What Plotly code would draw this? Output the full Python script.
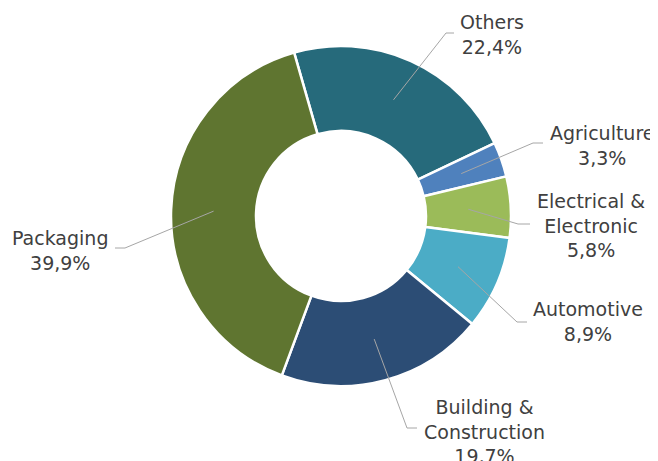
import math
import plotly.graph_objects as go

# data (clockwise from the top)
labels = ["Others", "Agriculture", "Electrical &<br>Electronic", "Automotive",
          "Building &<br>Construction", "Packaging"]
values = [22.4, 3.3, 5.8, 8.9, 19.7, 39.9]
colors = ["#266a7b", "#4f81bd", "#9bbb59", "#4bacc6", "#2c4d75", "#5f7530"]

# label layout (screen pixels): label centre and leader-line elbow
label_pos = [(492, 34), (602, 145), (591, 225), (588, 321), (484, 431), (60, 250)]
elbow_pos = [(446, 33), (533, 143), (518, 224), (517, 322), (407, 428), (125, 248)]
tail = [8, 10, 12, 10, 10, -10]

W, H = 658, 461
OFF = 8  # page body margin
cx, cy, R = 341 - OFF, 216 - OFF, 170
dom_x = [(cx - R) / W, (cx + R) / W]
dom_y = [1 - (cy + R) / H, 1 - (cy - R) / H]
rotation = -16

fig = go.Figure()
fig.add_trace(go.Pie(
    labels=labels, values=values, sort=False, direction="clockwise",
    rotation=rotation, hole=0.5, textinfo="none", hoverinfo="label+percent",
    marker=dict(colors=colors, line=dict(color="white", width=2.5)),
    domain=dict(x=dom_x, y=dom_y), showlegend=False,
))

total = sum(values)
start = rotation
for i, v in enumerate(values):
    mid = math.radians(start + v / total * 360 / 2)
    start += v / total * 360
    r = R * 0.75
    x0 = cx + r * math.sin(mid)
    y0 = cy - r * math.cos(mid)
    ex, ey = elbow_pos[i][0] - OFF, elbow_pos[i][1] - OFF
    fig.add_shape(type="path", xref="x", yref="y", layer="above",
                  path=f"M {x0},{y0} L {ex},{ey} L {ex + tail[i]},{ey}",
                  line=dict(color="#a6a6a6", width=1))
    pct = f"{v:.1f}".replace(".", ",") + "%"
    lx, ly = label_pos[i][0] - OFF, label_pos[i][1] - OFF
    fig.add_annotation(x=lx, y=ly, xref="x", yref="y", text=f"{labels[i]}<br>{pct}",
                       showarrow=False, xanchor="center", yanchor="middle",
                       font=dict(family="DejaVu Sans", size=19, color="#404040"))

fig.update_layout(
    width=W, height=H, margin=dict(l=0, r=0, t=0, b=0),
    paper_bgcolor="white", plot_bgcolor="rgba(0,0,0,0)",
    xaxis=dict(range=[0, W], visible=False, fixedrange=True),
    yaxis=dict(range=[H, 0], visible=False, fixedrange=True),
)

fig.write_html("out.html")
